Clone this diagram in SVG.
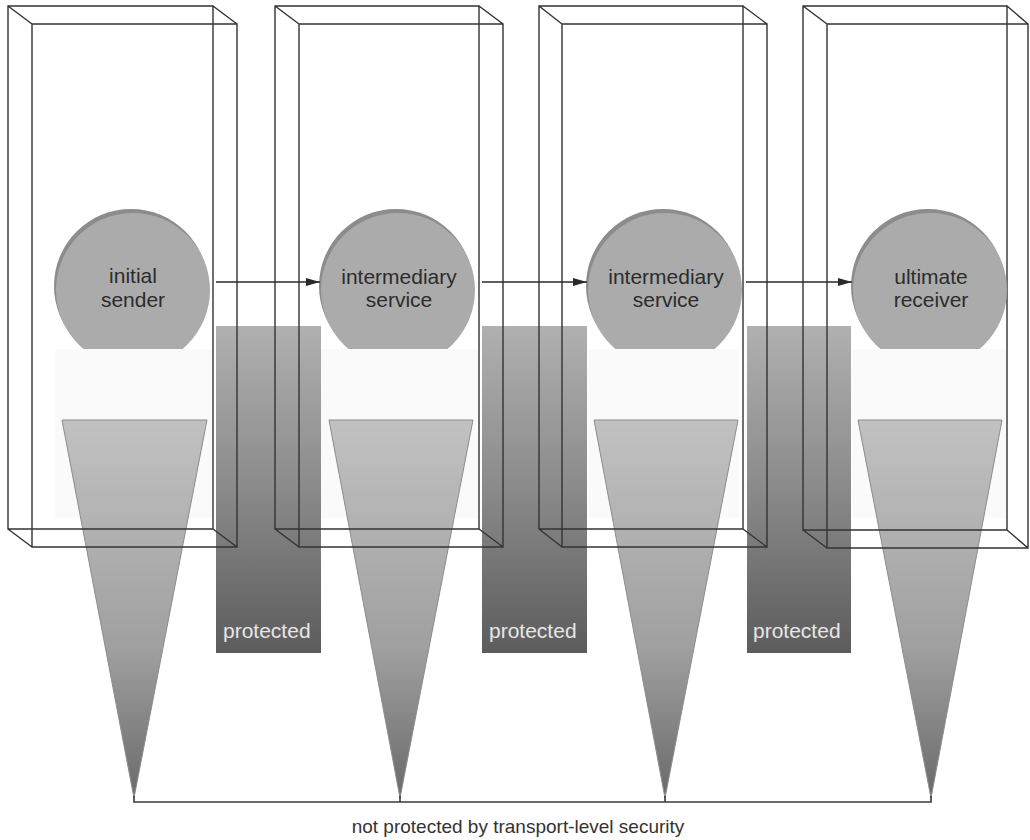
<svg xmlns="http://www.w3.org/2000/svg" width="1030" height="840" viewBox="0 0 1030 840">
  <defs>
    <linearGradient id="coneFill" x1="0" y1="0" x2="0" y2="1">
      <stop offset="0" stop-color="#c1c1c1"/>
      <stop offset="0.6" stop-color="#a0a0a0"/>
      <stop offset="1" stop-color="#6a6a6a"/>
    </linearGradient>
    <linearGradient id="pipeFill" x1="0" y1="0" x2="0" y2="1">
      <stop offset="0" stop-color="#b0b0b0"/>
      <stop offset="0.5" stop-color="#8a8a8a"/>
      <stop offset="1" stop-color="#5c5c5c"/>
    </linearGradient>
    <!-- discs end where the pale pane begins -->
    <clipPath id="discClip" clipPathUnits="userSpaceOnUse">
      <rect x="0" y="0" width="1030" height="349"/>
    </clipPath>
    <marker id="arrowHead" viewBox="0 0 14 10" refX="14" refY="5" markerWidth="14" markerHeight="10" markerUnits="userSpaceOnUse" orient="auto">
      <path d="M0,1 L14,5 L0,9 Z" fill="#2a2a2a"/>
    </marker>
  </defs>
  <style>
    .frame { fill: none; stroke: #333; stroke-width: 1.4; }
    .band { fill: #fafafa; }
    .cone { fill: url(#coneFill); stroke: #8c8c8c; stroke-width: 1; }
    .pipe { fill: url(#pipeFill); }
    .disc-rim { fill: #8c8c8c; }
    .disc { fill: #ababab; }
    .node-label { font-family: "Liberation Sans", Arial, sans-serif; font-size: 21px; fill: #2c2c2c; text-anchor: middle; }
    .pipe-label { font-family: "Liberation Sans", Arial, sans-serif; font-size: 21px; fill: #e6e6e6; }
    .caption { font-family: "Liberation Sans", Arial, sans-serif; font-size: 19px; fill: #333; text-anchor: middle; }
    .link { fill: none; stroke: #2a2a2a; stroke-width: 1.6; }
    .bracket { fill: none; stroke: #3a3a3a; stroke-width: 1.6; }
  </style>

  <rect width="1030" height="840" fill="#ffffff"/>

  <!-- faint panes inside each frame -->
  <g id="panes">
    <rect class="band" x="55" y="349" width="158" height="169"/>
    <rect class="band" x="320" y="349" width="159" height="169"/>
    <rect class="band" x="588" y="349" width="151" height="169"/>
    <rect class="band" x="852" y="349" width="155" height="169"/>
  </g>

  <!-- unprotected regions inside each node -->
  <g id="exposure">
    <polygon class="cone" points="62,420 207,420 134,798"/>
    <polygon class="cone" points="329,420 473,420 400,798"/>
    <polygon class="cone" points="594,420 738,420 665,798"/>
    <polygon class="cone" points="858,420 1002,420 931,798"/>
  </g>

  <!-- protected transport hops -->
  <g id="hop-1">
    <rect class="pipe" x="216" y="326" width="105" height="327"/>
    <text class="pipe-label" x="223" y="638">protected</text>
  </g>
  <g id="hop-2">
    <rect class="pipe" x="482" y="326" width="105" height="327"/>
    <text class="pipe-label" x="489" y="638">protected</text>
  </g>
  <g id="hop-3">
    <rect class="pipe" x="747" y="326" width="104" height="327"/>
    <text class="pipe-label" x="753" y="638">protected</text>
  </g>

  <!-- nodes: wireframe box, disc and label -->
  <g id="initial-sender">
    <path class="frame" d="M8,6 H213 V529 H8 Z M32,24 H237 V547 H32 Z M8,6 L32,24 M213,6 L237,24 M8,529 L32,547 M213,529 L237,547"/>
    <g clip-path="url(#discClip)">
      <circle class="disc-rim" cx="131" cy="286" r="77"/>
      <circle class="disc" cx="133" cy="290" r="77"/>
    </g>
    <text class="node-label" x="133" y="283">initial</text>
    <text class="node-label" x="133" y="307">sender</text>
  </g>
  <g id="intermediary-1">
    <path class="frame" d="M275,6 H479 V529 H275 Z M299,24 H503 V547 H299 Z M275,6 L299,24 M479,6 L503,24 M275,529 L299,547 M479,529 L503,547"/>
    <g clip-path="url(#discClip)">
      <circle class="disc-rim" cx="396" cy="286" r="77"/>
      <circle class="disc" cx="398" cy="290" r="77"/>
    </g>
    <text class="node-label" x="399" y="284">intermediary</text>
    <text class="node-label" x="399" y="307">service</text>
  </g>
  <g id="intermediary-2">
    <path class="frame" d="M539,6 H743 V529 H539 Z M562,24 H767 V547 H562 Z M539,6 L562,24 M743,6 L767,24 M539,529 L562,547 M743,529 L767,547"/>
    <g clip-path="url(#discClip)">
      <circle class="disc-rim" cx="663" cy="286" r="77"/>
      <circle class="disc" cx="665" cy="290" r="77"/>
    </g>
    <text class="node-label" x="666" y="284">intermediary</text>
    <text class="node-label" x="666" y="307">service</text>
  </g>
  <g id="ultimate-receiver">
    <path class="frame" d="M803,6 H1007 V530 H803 Z M827,24 H1028 V548 H827 Z M803,6 L827,24 M1007,6 L1028,24 M803,530 L827,548 M1007,530 L1028,548"/>
    <g clip-path="url(#discClip)">
      <circle class="disc-rim" cx="928" cy="286" r="77"/>
      <circle class="disc" cx="930" cy="290" r="77"/>
    </g>
    <text class="node-label" x="931" y="284">ultimate</text>
    <text class="node-label" x="931" y="307">receiver</text>
  </g>

  <!-- connectors -->
  <g id="connectors">
    <line class="link" x1="216" y1="282" x2="320" y2="282" marker-end="url(#arrowHead)"/>
    <line class="link" x1="482" y1="282" x2="587" y2="282" marker-end="url(#arrowHead)"/>
    <line class="link" x1="746" y1="282" x2="852" y2="282" marker-end="url(#arrowHead)"/>
    <path class="bracket" d="M134,796 V802 H931 V796 M400,796 V802 M665,796 V802"/>
  </g>

  <text class="caption" x="518" y="833">not protected by transport-level security</text>
</svg>
